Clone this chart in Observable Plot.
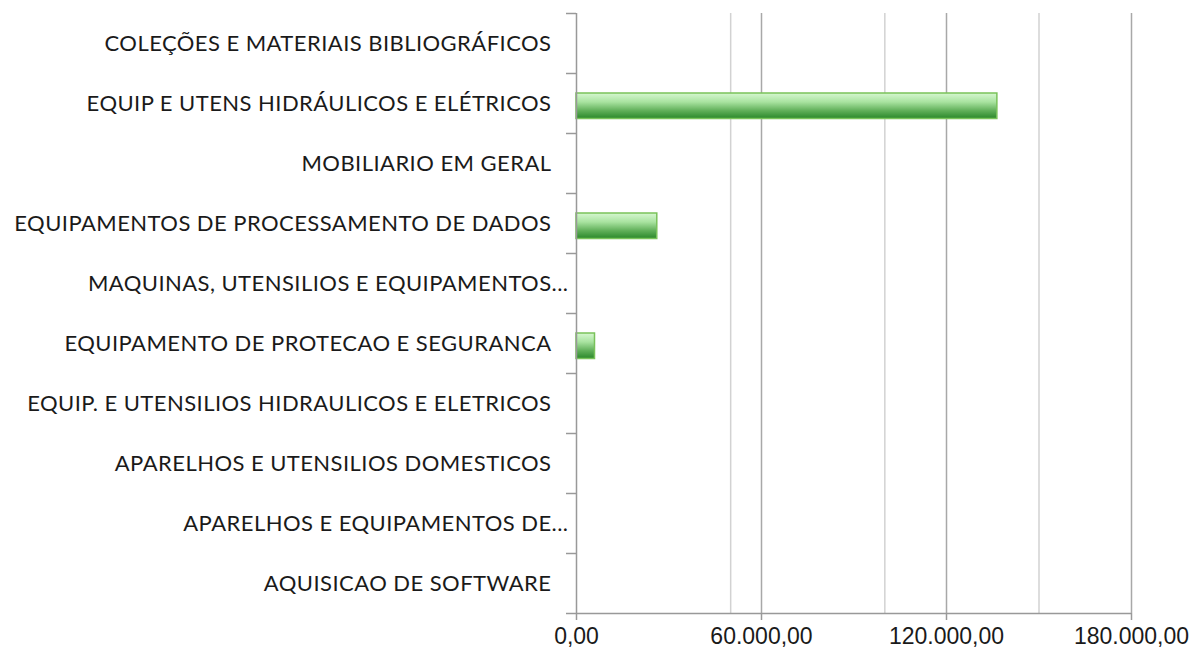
<!DOCTYPE html>
<html>
<head>
<meta charset="utf-8">
<script src="https://cdn.jsdelivr.net/npm/d3@7"></script>
<script src="https://cdn.jsdelivr.net/npm/@observablehq/plot@0.6"></script>
<style>
  html, body { margin: 0; padding: 0; background: #fff; }
  #chart { width: 1200px; height: 657px; }
</style>
</head>
<body>
<div id="chart"></div>
<script>
// Categories (top to bottom) and their displayed labels
const categories = [
  "COLEÇÕES E MATERIAIS BIBLIOGRÁFICOS",
  "EQUIP E UTENS HIDRÁULICOS E ELÉTRICOS",
  "MOBILIARIO EM GERAL",
  "EQUIPAMENTOS DE PROCESSAMENTO DE DADOS",
  "MAQUINAS, UTENSILIOS E EQUIPAMENTOS DIVERSOS",
  "EQUIPAMENTO DE PROTECAO E SEGURANCA",
  "EQUIP. E UTENSILIOS HIDRAULICOS E ELETRICOS",
  "APARELHOS E UTENSILIOS DOMESTICOS",
  "APARELHOS E EQUIPAMENTOS DE COMUNICACAO",
  "AQUISICAO DE SOFTWARE"
];
const labels = [
  "COLEÇÕES E MATERIAIS BIBLIOGRÁFICOS",
  "EQUIP E UTENS HIDRÁULICOS E ELÉTRICOS",
  "MOBILIARIO EM GERAL",
  "EQUIPAMENTOS DE PROCESSAMENTO DE DADOS",
  "MAQUINAS, UTENSILIOS E EQUIPAMENTOS...",
  "EQUIPAMENTO DE PROTECAO E SEGURANCA",
  "EQUIP. E UTENSILIOS HIDRAULICOS E ELETRICOS",
  "APARELHOS E UTENSILIOS DOMESTICOS",
  "APARELHOS E EQUIPAMENTOS DE...",
  "AQUISICAO DE SOFTWARE"
];
const values = [0, 136500, 0, 26200, 0, 6000, 0, 0, 0, 0];
const majorTicks = [0, 60000, 120000, 180000];
const minorGrid = [50000, 100000, 150000];

const data = categories.map((c, i) => ({cat: c, label: labels[i], value: values[i]}));
const fullLabels = data.filter(d => !d.label.endsWith("..."));
const cutLabels = data.filter(d => d.label.endsWith("..."));

const br = d3.formatLocale({decimal: ",", thousands: ".", grouping: [3], currency: ["R$", ""]});
const fmt = br.format(",.2f");

const FONT = "Lato, 'Open Sans', sans-serif";

const plot = Plot.plot({
  width: 1200,
  height: 657,
  marginLeft: 576,
  marginRight: 69,
  marginTop: 13,
  marginBottom: 44,
  style: {fontFamily: FONT, background: "#fff", color: "#1a1a1a"},
  x: {domain: [0, 180000], axis: null},
  y: {domain: categories, padding: 0, axis: null},
  marks: [
    Plot.ruleX(minorGrid, {stroke: "#d2d2d2", strokeWidth: 1.5}),
    Plot.ruleX(majorTicks.filter(d => d > 0), {stroke: "#a8a8a8", strokeWidth: 1.5}),
    // band boundary ticks on the category axis
    Plot.ruleY(categories, {y: d => d, x1: 0, x2: 0, dy: -30, insetLeft: -10, stroke: "#999", strokeWidth: 1.5}),
    Plot.ruleY(categories.slice(-1), {y: d => d, x1: 0, x2: 0, dy: 30, insetLeft: -10, stroke: "#999", strokeWidth: 1.5}),
    Plot.barX(data, {
      x: "value", y: "cat",
      insetTop: 20, insetBottom: 14.5,
      fill: "url(#barGrad)", stroke: "#79c25a", strokeWidth: 1.5
    }),
    Plot.ruleX([0], {stroke: "#999", strokeWidth: 1.5}),
    Plot.ruleY([categories[categories.length - 1]], {y: d => d, dy: 30, x1: 0, x2: 180000, stroke: "#999", strokeWidth: 1.5}),
    Plot.axisX({
      ticks: majorTicks, tickFormat: fmt, tickSize: 7, tickPadding: 7,
      fontSize: 23, fontFamily: "'Liberation Sans', Arial, sans-serif",
      stroke: "#999", strokeWidth: 1.5, fill: "#1a1a1a", label: null
    }),
    Plot.text(fullLabels, {x: 0, y: "cat", text: "label", textAnchor: "end", dx: -25, fontSize: 22, fill: "#1a1a1a"}),
    Plot.text(cutLabels, {x: 0, y: "cat", text: "label", textAnchor: "end", dx: -8, fontSize: 22, fill: "#1a1a1a"})
  ]
});

const svg = d3.select(plot);
svg.selectAll("text").attr("letter-spacing", null);
svg.selectAll("g[aria-label='text'] text").style("letter-spacing", "0.45px");
svg.insert("defs", ":first-child").html(`
  <linearGradient id="barGrad" x1="0" y1="0" x2="0" y2="1">
    <stop offset="0" stop-color="#d6f7d0"/>
    <stop offset="0.35" stop-color="#a9e3a0"/>
    <stop offset="0.7" stop-color="#5fae58"/>
    <stop offset="1" stop-color="#2a882a"/>
  </linearGradient>`);

document.getElementById("chart").appendChild(plot);
</script>
</body>
</html>
